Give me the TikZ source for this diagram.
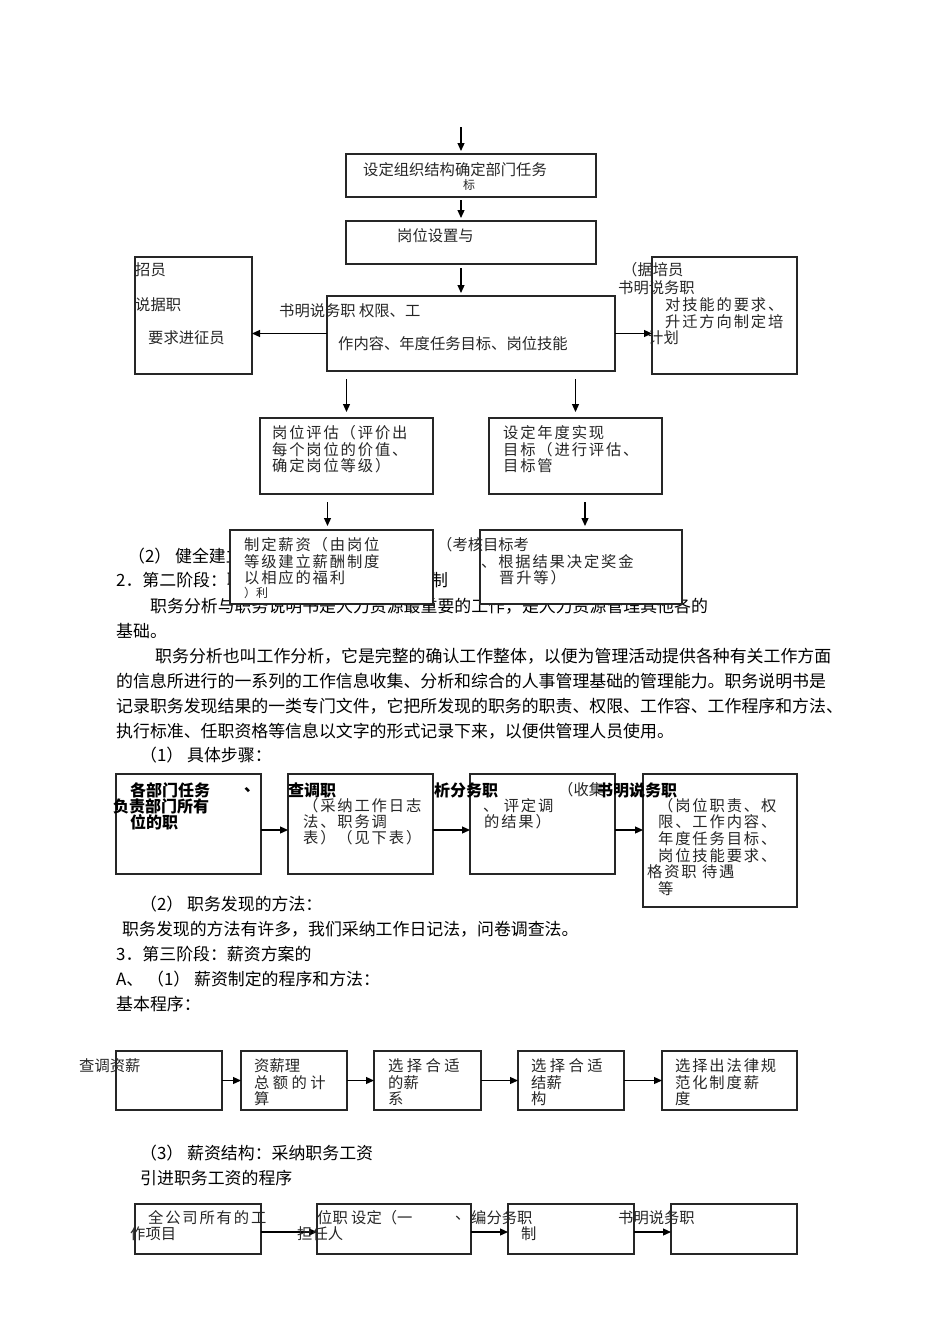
\documentclass[tikz,border=0pt]{standalone}
\usepackage{fontspec}
\setmainfont{Noto Sans CJK SC}
\newfontfamily\bxsp[LetterSpace=12]{Noto Sans CJK SC}
\newfontfamily\bxno{Noto Sans CJK SC}
\usetikzlibrary{arrows.meta}
\tikzset{
  bx/.style={draw=black!85, line width=1.2pt, fill=white, inner sep=0pt, outer sep=0pt, anchor=north west},
  body/.style={anchor=west, inner sep=0pt, font=\fontsize{16.9}{18}\selectfont},
  bt/.style={anchor=west, inner sep=0pt, text=black!85, font=\bxsp\fontsize{15.3}{17}\selectfont},
  bn/.style={anchor=west, inner sep=0pt, text=black!85, font=\bxno\fontsize{15.3}{17}\selectfont},
  bb/.style={anchor=west, inner sep=0pt, font=\bfseries\fontsize{16}{17}\selectfont},
  bs/.style={anchor=west, inner sep=0pt, text=black!85, font=\bxno\fontsize{12}{13}\selectfont},
  arr/.style={-{Triangle[length=8pt,width=7pt]}, line width=1.2pt},
}
\begin{document}
\begin{tikzpicture}[x=1pt,y=-1pt]
\useasboundingbox (0,0) rectangle (950,1344);
% ---- body text (behind boxes)
\node[body] (p1) at (128,556) {（2） 健全建立};
\node[body] (p2) at (116,580) {2．第二阶段：职};
\node[body] (p2b) at (431,580) {制};
\node[body] (p3) at (150,606) {职务分析与职务说明书是人力资源最重要的工作，是人力资源管理其他各的};
\node[body] (p4) at (116,631) {基础。};
\node[body] (p5) at (155,656) {职务分析也叫工作分析，它是完整的确认工作整体，以便为管理活动提供各种有关工作方面};
\node[body] (p6) at (116,681) {的信息所进行的一系列的工作信息收集、分析和综合的人事管理基础的管理能力。职务说明书是};
\node[body] (p7) at (116,706) {记录职务发现结果的一类专门文件，它把所发现的职务的职责、权限、工作容、工作程序和方法、};
\node[body] (p8) at (116,731) {执行标准、任职资格等信息以文字的形式记录下来，以便供管理人员使用。};
\node[body] (p9) at (140,755) {（1） 具体步骤：};
\node[body] (p10) at (140,904) {（2） 职务发现的方法：};
\node[body] (p11) at (122,929) {职务发现的方法有许多，我们采纳工作日记法，问卷调查法。};
\node[body] (p12) at (116,954) {3．第三阶段：薪资方案的};
\node[body] (p13) at (116,979) {A、 （1） 薪资制定的程序和方法：};
\node[body] (p14) at (116,1004) {基本程序：};
\node[body] (p15) at (140,1153) {（3） 薪资结构：采纳职务工资};
\node[body] (p16) at (140,1178) {引进职务工资的程序};
% ---- boxes
\node[bx, minimum width=250pt, minimum height=43pt] (b1) at (346,154) {};
\node[bx, minimum width=250pt, minimum height=43pt] (b2) at (346,221) {};
\node[bx, minimum width=288pt, minimum height=75pt] (c) at (327,296) {};
\node[bx, minimum width=117pt, minimum height=117pt] (L) at (135,257) {};
\node[bx, minimum width=145pt, minimum height=117pt] (R) at (652,257) {};
\node[bx, minimum width=173pt, minimum height=76pt] (b3) at (260,418) {};
\node[bx, minimum width=173pt, minimum height=76pt] (b4) at (489,418) {};
\node[bx, minimum width=203pt, minimum height=74pt] (b5) at (230,530) {};
\node[bx, minimum width=202pt, minimum height=74pt] (b6) at (480,530) {};
\node[bx, minimum width=145pt, minimum height=100pt] (f1) at (116,774) {};
\node[bx, minimum width=145pt, minimum height=100pt] (f2) at (288,774) {};
\node[bx, minimum width=145pt, minimum height=100pt] (f3) at (470,774) {};
\node[bx, minimum width=154pt, minimum height=133pt] (f4) at (643,774) {};
\node[bx, minimum width=106pt, minimum height=59pt] (g1) at (116,1051) {};
\node[bx, minimum width=106pt, minimum height=59pt] (g2) at (241,1051) {};
\node[bx, minimum width=107pt, minimum height=59pt] (g3) at (374,1051) {};
\node[bx, minimum width=106pt, minimum height=59pt] (g4) at (518,1051) {};
\node[bx, minimum width=135pt, minimum height=59pt] (g5) at (662,1051) {};
\node[bx, minimum width=126pt, minimum height=50pt] (h1) at (135,1204) {};
\node[bx, minimum width=154pt, minimum height=50pt] (h2) at (317,1204) {};
\node[bx, minimum width=126pt, minimum height=50pt] (h3) at (508,1204) {};
\node[bx, minimum width=126pt, minimum height=50pt] (h4) at (671,1204) {};
% ---- connectors
\coordinate (top) at (461,127);
\draw[arr, shorten >=3pt] (top) -- (top |- b1.north);
\draw[arr, shorten <=3pt, shorten >=3pt] (top |- b1.south) -- (top |- b2.north);
\draw[arr, shorten <=4pt, shorten >=3pt] (top |- b2.south) -- (top |- c.north);
\draw[arr] (c.west) -- (c.west -| L.east);
\draw[arr] (c.east) -- (c.east -| R.west);
\draw[arr, shorten <=8pt, shorten >=6pt] (b3.north |- c.south) -- (b3.north);
\draw[arr, shorten <=8pt, shorten >=6pt] (b4.north |- c.south) -- (b4.north);
\draw[arr, shorten <=8pt, shorten >=4pt] ([xshift=-4pt]b5.north |- b3.south) -- ([xshift=-4pt]b5.north);
\draw[arr, shorten <=8pt, shorten >=4pt] ([xshift=4pt]b6.north |- b4.south) -- ([xshift=4pt]b6.north);
\draw[arr] ([yshift=-6pt]f1.east) -- ([yshift=-6pt]f1.east -| f2.west);
\draw[arr] ([yshift=-6pt]f2.east) -- ([yshift=-6pt]f2.east -| f3.west);
\draw[arr] ([yshift=-6pt]f3.east) -- ([yshift=-6pt]f3.east -| f4.west);
\draw[arr] (g1.east) -- (g2.west);
\draw[arr] (g2.east) -- (g3.west);
\draw[arr] (g3.east) -- (g4.west);
\draw[arr] (g4.east) -- (g5.west);
\draw[arr] ([yshift=-3pt]h1.east) -- ([yshift=-3pt]h2.west);
\draw[arr] ([yshift=-3pt]h2.east) -- ([yshift=-3pt]h3.west);
\draw[arr] ([yshift=-3pt]h3.east) -- ([yshift=-3pt]h4.west);
% ---- box texts, top part
\node[bn] (tb1a) at (363,170) {设定组织结构确定部门任务};
\node[bs] (tb1b) at (463,185) {标};
\node[bn] (tb2a) at (397,236) {岗位设置与};
\node[bn] (tca) at (279,311) {书明说务职 权限、工};
\node[bn] (tcc) at (338,344) {作内容、年度任务目标、岗位技能};
\node[bn] (tLa) at (135,270) {招员};
\node[bn] (tLb) at (135,305) {说据职};
\node[bn] (tLc) at (148,338) {要求进征员};
\node[bn] (tRa) at (622,270) {（据培员};
\node[bn] (tRb) at (618,288) {书明说务职};
\node[bt] (tRc) at (665,305) {对技能的要求、};
\node[bt] (tRd) at (665,322) {升迁方向制定培};
\node[bn] (tRe) at (648,338) {计划};
\node[bt] (tb3a) at (272,433) {岗位评估（评价出};
\node[bt] (tb3b) at (272,450) {每个岗位的价值、};
\node[bt] (tb3c) at (272,466) {确定岗位等级）};
\node[bt] (tb4a) at (503,433) {设定年度实现};
\node[bt] (tb4b) at (503,450) {目标（进行评估、};
\node[bt] (tb4c) at (503,466) {目标管};
\node[bt] (tb5a) at (244,545) {制定薪资（由岗位};
\node[bt] (tb5b) at (244,562) {等级建立薪酬制度};
\node[bt] (tb5c) at (244,578) {以相应的福利};
\node[bs] (tb5d) at (244,593) {）利};
\node[bn] (tb6a) at (437,545) {（考核目标考};
\node[bt] (tb6b) at (481,562) {、根据结果决定奖金};
\node[bt] (tb6c) at (499,578) {晋升等）};
% ---- flow 1
\node[bb] (tf1a) at (130,790) {各部门任务};
\node[bb] (tf1b) at (244,790) {、};
\node[bb] (tf1c) at (113,806) {负责部门所有};
\node[bb] (tf1d) at (130,822) {位的职};
\node[bb] (tf2a) at (288,790) {查调职};
\node[bt] (tf2b) at (303,806) {（采纳工作日志};
\node[bt] (tf2c) at (303,822) {法、职务调};
\node[bt] (tf2d) at (303,838) {表）（见下表）};
\node[bb] (tf3a) at (434,790) {析分务职};
\node[bn] (tf3b) at (558,790) {（收集};
\node[bb] (tf3c) at (597,790) {书明说务职};
\node[bt] (tf3d) at (483,806) {、 评定调};
\node[bt] (tf3e) at (484,822) {的结果）};
\node[bt] (tf4a) at (658,806) {（岗位职责、权};
\node[bt] (tf4b) at (658,822) {限、工作内容、};
\node[bt] (tf4c) at (658,839) {年度任务目标、};
\node[bt] (tf4d) at (658,856) {岗位技能要求、};
\node[bt] (tf4e) at (647,872) {格资职 待遇};
\node[bt] (tf4f) at (658,889) {等};
% ---- flow 2
\node[bn] (tg1) at (79,1066) {查调资薪};
\node[bn] (tg2a) at (254,1066) {资薪理};
\node[bn] (tg2b) at (254,1083) {总 额 的 计};
\node[bn] (tg2c) at (254,1099) {算};
\node[bn] (tg3a) at (388,1066) {选 择 合 适};
\node[bn] (tg3b) at (388,1083) {的薪};
\node[bn] (tg3c) at (388,1099) {系};
\node[bn] (tg4a) at (531,1066) {选 择 合 适};
\node[bn] (tg4b) at (531,1083) {结薪};
\node[bn] (tg4c) at (531,1099) {构};
\node[bt] (tg5a) at (675,1066) {选择出法律规};
\node[bt] (tg5b) at (675,1083) {范化制度薪};
\node[bt] (tg5c) at (675,1099) {度};
% ---- flow 3
\node[bt] (th1a) at (148,1218) {全公司所有的工};
\node[bn] (th1b) at (130,1234) {作项目};
\node[bn] (th2a) at (317,1218) {位职 设定（一};
\node[bn] (th2b) at (455,1218) {、};
\node[bn] (th2c) at (297,1234) {担任人};
\node[bn] (th3a) at (471,1218) {编分务职};
\node[bn] (th3b) at (521,1234) {制};
\node[bn] (th4a) at (618,1218) {书明说务职};
\end{tikzpicture}
\end{document}
